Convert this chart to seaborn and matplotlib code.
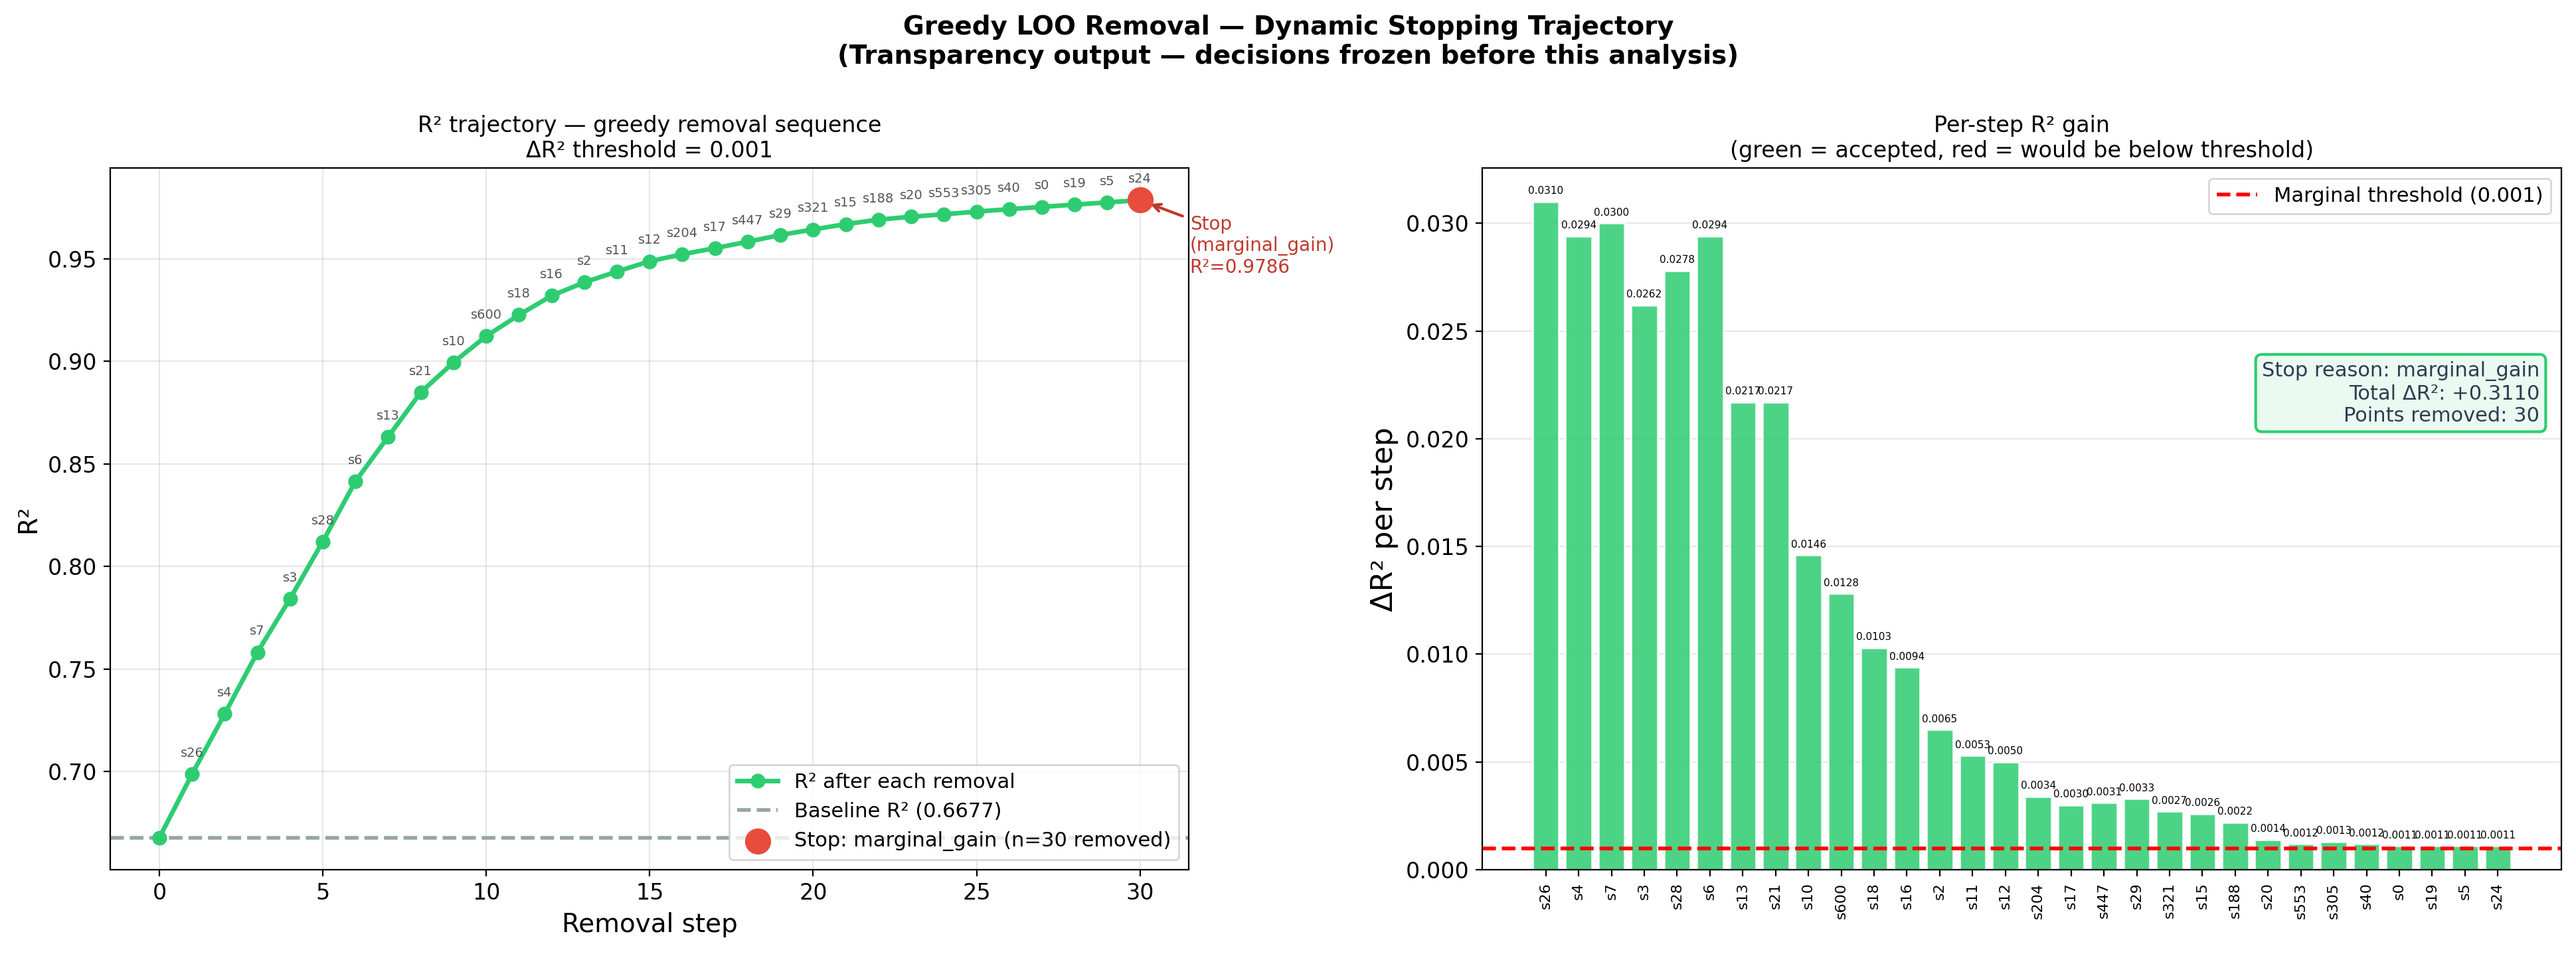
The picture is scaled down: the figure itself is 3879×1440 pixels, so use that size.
import matplotlib
matplotlib.use('Agg')
import matplotlib.pyplot as plt
import seaborn as sns

# removal order (sample ids) and the R² gain of each step
REMOVED = ['s26', 's4', 's7', 's3', 's28', 's6', 's13', 's21', 's10', 's600',
           's18', 's16', 's2', 's11', 's12', 's204', 's17', 's447', 's29', 's321',
           's15', 's188', 's20', 's553', 's305', 's40', 's0', 's19', 's5', 's24']
GAINS = [0.0310, 0.0294, 0.0300, 0.0262, 0.0278, 0.0294, 0.0217, 0.0217, 0.0146, 0.0128,
         0.0103, 0.0094, 0.0065, 0.0053, 0.0050, 0.0034, 0.0030, 0.0031, 0.0033, 0.0027,
         0.0026, 0.0022, 0.0014, 0.0012, 0.0013, 0.0012, 0.0011, 0.0011, 0.0011, 0.0011]

# R² after each removal (step 0 = baseline)
STEPS = list(range(31))
R2 = [0.6677, 0.6987, 0.7281, 0.7581, 0.7843, 0.8121, 0.8415, 0.8632, 0.8849, 0.8995,
      0.9123, 0.9226, 0.9320, 0.9385, 0.9438, 0.9488, 0.9522, 0.9552, 0.9583, 0.9616,
      0.9643, 0.9669, 0.9691, 0.9705, 0.9717, 0.9730, 0.9742, 0.9753, 0.9764, 0.9775,
      0.9786]

BASELINE = 0.6677
THRESHOLD = 0.001
TOTAL_GAIN = 0.3110
STOP_REASON = 'marginal_gain'

GREEN = '#2ecc71'
RED = '#e74c3c'
DARK_RED = '#c0392b'


fig, (ax1, ax2) = plt.subplots(1, 2, figsize=(19.4, 7.2))
fig.subplots_adjust(left=0.0428, right=0.994, bottom=0.0903, top=0.824, wspace=0.272)

# ---- left: R² trajectory
sns.lineplot(x=STEPS, y=R2, ax=ax1, color=GREEN, linewidth=2.5, marker='o', markersize=8,
             markeredgewidth=0, label='R² after each removal', zorder=3)
ax1.axhline(BASELINE, color='#95a5a6', linestyle='--', linewidth=2,
            label=f'Baseline R² ({BASELINE:.4f})')
sns.scatterplot(x=[STEPS[-1]], y=[R2[-1]], ax=ax1, s=200, color=RED, linewidth=0, zorder=5,
                label=f'Stop: {STOP_REASON} (n={len(REMOVED)} removed)')

for step, name, r in zip(STEPS[1:], REMOVED, R2[1:]):
    ax1.annotate(name, (step, r), xytext=(0, 8), textcoords='offset points',
                 ha='center', va='bottom', fontsize=7, color='#555555')

ax1.annotate(f'Stop\n({STOP_REASON})\nR²={R2[-1]:.4f}', xy=(STEPS[-1], R2[-1]),
             xytext=(27, -8), textcoords='offset points', ha='left', va='top',
             fontsize=10, color=DARK_RED,
             arrowprops=dict(arrowstyle='->', color=DARK_RED, lw=1.5, shrinkB=6))

ax1.set_title(f'R² trajectory — greedy removal sequence\nΔR² threshold = {THRESHOLD}', fontsize=12)
ax1.set_xlabel('Removal step', fontsize=14)
ax1.set_ylabel('R²', fontsize=14)
ax1.tick_params(labelsize=12)
ax1.grid(True, alpha=0.3)
ax1.legend(loc='lower right', fontsize=11)

# ---- right: per-step gain
sns.barplot(x=REMOVED, y=GAINS, ax=ax2, color=GREEN, saturation=1, alpha=0.85,
            width=0.8, edgecolor='white', linewidth=1)
ax2.bar_label(ax2.containers[0], fmt='%.4f', fontsize=5.5, padding=3)
ax2.axhline(THRESHOLD, color='red', linestyle='--', linewidth=2,
            label=f'Marginal threshold ({THRESHOLD})')
ax2.set_xlim(-1.93, len(REMOVED) - 1 + 1.93)
ax2.set_title('Per-step R² gain\n(green = accepted, red = would be below threshold)', fontsize=12)
ax2.set_xlabel('')
ax2.set_ylabel('ΔR² per step', fontsize=16)
ax2.tick_params(axis='y', labelsize=12)
ax2.tick_params(axis='x', rotation=90, labelsize=8)
ax2.grid(axis='y', alpha=0.3)
ax2.set_axisbelow(True)
ax2.legend(loc='upper right', fontsize=11)

ax2.text(0.98, 0.725,
         f'Stop reason: {STOP_REASON}\nTotal ΔR²: +{TOTAL_GAIN:.4f}\nPoints removed: {len(REMOVED)}',
         transform=ax2.transAxes, ha='right', va='top', fontsize=11, color='#2c3e50',
         bbox=dict(boxstyle='round,pad=0.3', facecolor='#eafaf1', edgecolor=GREEN, linewidth=1.5))

fig.suptitle('Greedy LOO Removal — Dynamic Stopping Trajectory\n'
             '(Transparency output — decisions frozen before this analysis)',
             fontsize=14, fontweight='bold', y=0.985)

fig.savefig('out.png', dpi=200)
